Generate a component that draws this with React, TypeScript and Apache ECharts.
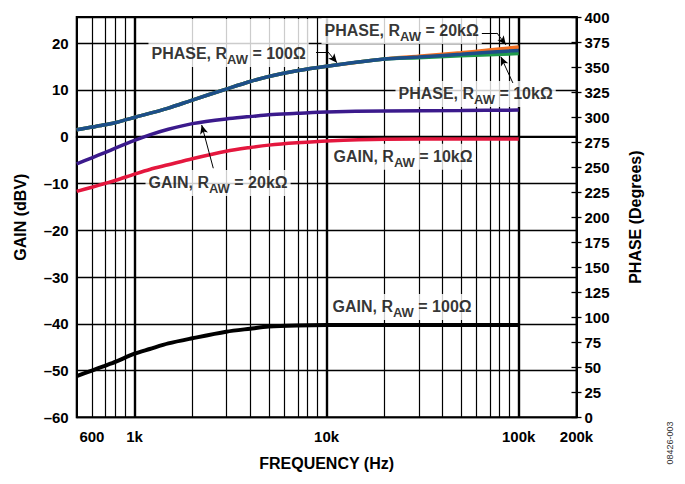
import React, { useEffect, useRef } from 'react';
import * as echarts from 'echarts';

// ---- data (frequency in Hz) ----
const gainFreq = [500, 600, 700, 800, 1000, 1200, 1500, 2000, 3000, 4000, 5000, 7000, 10000, 20000, 50000, 100000];
const gain100 = [-51.2, -50.0, -49.0, -48.1, -46.4, -45.4, -44.2, -43.1, -41.7, -41.05, -40.6, -40.35, -40.25, -40.25, -40.25, -40.25];
const gain20k = [-5.8, -4.5, -3.4, -2.4, -0.8, 0.4, 1.6, 2.8, 3.8, 4.3, 4.7, 5.0, 5.3, 5.5, 5.6, 5.7];
const gain10k = [-11.7, -10.8, -10.0, -9.3, -8.0, -7.0, -6.0, -4.7, -3.1, -2.3, -1.8, -1.3, -0.9, -0.55, -0.5, -0.5];

const phaseFreq = [500, 600, 700, 800, 1000, 1500, 2000, 3000, 4000, 5000, 7000, 10000, 20000, 30000, 50000, 70000, 100000];
const phase100 = [287.3, 290, 292.3, 294.6, 299.6, 309, 317, 328, 335.6, 340.6, 346.3, 350.8, 358, 360, 362.8, 364.8, 366.6];
const phase20k = [287.3, 290, 292.3, 294.6, 299.6, 309, 317, 328, 335.6, 340.6, 346.3, 350.8, 358, 360.8, 364.3, 367, 370];
const phase10k = [287.3, 290, 292.3, 294.6, 299.6, 309, 317, 328, 335.6, 340.6, 346.3, 350.8, 358, 359.3, 361.3, 362.3, 363.5];

const xMinFreq = 500;
const xMaxFreq = 200000;
const xTickFreqs = [600, 1000, 10000, 100000, 200000];
const xTickLabels = ['600', '1k', '10k', '100k', '200k'];
const gridFreqs = [600, 700, 800, 900, 1000, 2000, 3000, 4000, 5000, 6000, 7000, 8000, 9000, 10000,
  20000, 30000, 40000, 50000, 60000, 70000, 80000, 90000, 100000];
const decadeFreqs = [1000, 10000, 100000];

// annotations: anchor (freq, gain-axis value)
const annoPrefix = ['PHASE', 'PHASE', 'PHASE', 'GAIN', 'GAIN', 'GAIN'];
const annoValue = ['100Ω', '20kΩ', '10kΩ', '10kΩ', '20kΩ', '100Ω'];
const annoFreq = [1175, 9350, 22700, 10410, 1134, 10290];
const annoGain = [20.06, 22.63, 9.16, -4.26, -9.88, -36.4];

// arrow segments: from (freq, gain) to (freq, gain), with head flag
const arrowFrom = [[8806, 18.14], [10165, 18.14], [64310, 22.2], [77000, 22.2], [93260, 11.5], [2571, -6.74]];
const arrowTo = [[10165, 18.14], [11324, 15.8], [77000, 22.2], [85770, 19.65], [80750, 17.1], [2237, 2.52]];
const arrowHead = [false, true, false, true, true, true];

const L = (f: number) => Math.log10(f);
const FONT = '"Liberation Sans", Arial, Helvetica, sans-serif';

export default function App() {
  const ref = useRef<HTMLDivElement>(null);
  useEffect(() => {
    if (!ref.current) return;
    const chart = echarts.init(ref.current, undefined, { renderer: 'svg' });
    const pairs = (fs: number[], vs: number[]) => fs.map((f, i) => [L(f), vs[i]]);
    const rich = {
      a: { fontSize: 16, fontWeight: 'bold', fontFamily: FONT, color: '#000', lineHeight: 24, verticalAlign: 'middle' },
      s: { fontSize: 13, fontWeight: 'bold', fontFamily: FONT, color: '#000', lineHeight: 13, verticalAlign: 'bottom' },
    };
    const curve = (name: string, fs: number[], vs: number[], color: string, yIdx: number, width = 3.5) => ({
      name,
      type: 'line',
      xAxisIndex: 0,
      yAxisIndex: yIdx,
      data: pairs(fs, vs),
      showSymbol: false,
      symbol: 'none',
      smooth: 0.3,
      z: 3,
      lineStyle: { color, width, cap: 'butt' },
      silent: true,
    });
    const option: any = {
      animation: false,
      backgroundColor: '#fff',
      grid: {
        left: 76.7, right: 108.5, top: 17, bottom: 66.7,
        show: true, borderColor: '#000', borderWidth: 2, backgroundColor: 'transparent',
        outerBoundsMode: 'none',
      },
      xAxis: {
        type: 'value',
        min: L(xMinFreq),
        max: L(xMaxFreq),
        name: 'FREQUENCY (Hz)',
        nameLocation: 'middle',
        nameGap: 38,
        nameTextStyle: { fontSize: 16, fontWeight: 'bold', color: '#000', fontFamily: FONT },
        axisLine: { show: true, lineStyle: { color: '#000', width: 2 } },
        axisTick: { show: false },
        splitLine: { show: false },
        axisLabel: {
          customValues: xTickFreqs.map(L),
          formatter: (v: number) => {
            const i = xTickFreqs.findIndex((f) => Math.abs(L(f) - v) < 1e-6);
            return i >= 0 ? xTickLabels[i] : '';
          },
          fontSize: 15, fontWeight: 'bold', color: '#000', fontFamily: FONT, margin: 12,
          showMinLabel: true, showMaxLabel: true, hideOverlap: false,
        },
      },
      yAxis: [
        {
          type: 'value', min: -60, max: 25.6, interval: 10, position: 'left',
          name: 'GAIN (dBV)', nameLocation: 'middle', nameGap: 48, nameRotate: 90,
          nameTextStyle: { fontSize: 16, fontWeight: 'bold', color: '#000', fontFamily: FONT },
          axisLine: { show: true, lineStyle: { color: '#000', width: 2 } },
          axisTick: { show: false },
          splitLine: { show: true, lineStyle: { color: '#000', width: 1.3 } },
          axisLabel: {
            formatter: (v: number) => (Math.abs(v % 10) > 1e-6 ? '' : v < 0 ? '–' + Math.abs(v) : String(v)),
            fontSize: 15, fontWeight: 'bold', color: '#000', fontFamily: FONT, margin: 8,
            showMaxLabel: false,
          },
        },
        {
          type: 'value', min: 0, max: 400, interval: 25, position: 'right',
          name: 'PHASE (Degrees)', nameLocation: 'middle', nameGap: 51, nameRotate: 90,
          nameTextStyle: { fontSize: 16, fontWeight: 'bold', color: '#000', fontFamily: FONT },
          axisLine: { show: true, lineStyle: { color: '#000', width: 2 } },
          axisTick: { show: true, inside: false, length: 5, lineStyle: { color: '#000', width: 1.3 } },
          splitLine: { show: false },
          axisLabel: { fontSize: 15, fontWeight: 'bold', color: '#000', fontFamily: FONT, margin: 8 },
        },
        {
          type: 'value', min: 0, max: 400, interval: 25, position: 'right',
          axisLine: { show: false },
          axisTick: { show: true, inside: true, length: 5, lineStyle: { color: '#000', width: 1.3 } },
          splitLine: { show: false },
          axisLabel: { show: false },
        },
      ],
      series: [
        {
          name: 'grid',
          type: 'line',
          data: [],
          silent: true,
          markLine: {
            silent: true,
            z: 1,
            animation: false,
            symbol: ['none', 'none'],
            label: { show: false },
            data: gridFreqs.map((f) => ({
              xAxis: L(f),
              lineStyle: { color: '#000', type: 'solid', width: decadeFreqs.includes(f) ? 2.4 : 1.2 },
            })),
          },
        },
        {
          name: 'labels',
          type: 'scatter',
          z: 2,
          silent: true,
          symbolSize: 1,
          itemStyle: { color: 'transparent' },
          data: annoFreq.map((f, i) => ({
            value: [L(f), annoGain[i]],
            label: {
              show: true,
              position: 'right',
              distance: 0,
              backgroundColor: '#fff',
              padding: i === 0 ? [23, 3, 1, 3] : [1, 3, 1, 3],
              formatter: `{a|${annoPrefix[i]}, R}{s|AW}{a| = ${annoValue[i]}}`,
              rich,
            },
          })),
        },
        curve('GAIN 100Ω', gainFreq, gain100, '#000000', 0, 4),
        curve('GAIN 10kΩ', gainFreq, gain10k, '#e4173e', 0),
        curve('GAIN 20kΩ', gainFreq, gain20k, '#3b1a8c', 0),
        curve('PHASE 20kΩ', phaseFreq, phase20k, '#f37022', 1),
        curve('PHASE 10kΩ', phaseFreq, phase10k, '#1f9a4b', 1),
        curve('PHASE 100Ω', phaseFreq, phase100, '#1d4e89', 1),
        {
          name: 'arrows',
          type: 'line',
          data: [],
          silent: true,
          markLine: {
            silent: true,
            z: 6,
            animation: false,
            symbolSize: [6, 9],
            label: { show: false },
            lineStyle: { color: '#000', width: 1, type: 'solid' },
            data: arrowFrom.map((a, i) => [
              { coord: [L(a[0]), a[1]], symbol: 'none' },
              { coord: [L(arrowTo[i][0]), arrowTo[i][1]], symbol: arrowHead[i] ? 'arrow' : 'none' },
            ]),
          },
        },
      ],
      graphic: [
        {
          type: 'text',
          x: 670,
          y: 443,
          rotation: Math.PI / 2,
          style: { text: '08426-003', fontSize: 9, fill: '#333', fontFamily: FONT, align: 'center', verticalAlign: 'middle' },
        },
      ],
    };
    chart.setOption(option);
    return () => chart.dispose();
  }, []);
  return <div ref={ref} style={{ position: 'fixed', left: 0, top: 0, width: 685, height: 484, background: '#fff' }} />;
}
